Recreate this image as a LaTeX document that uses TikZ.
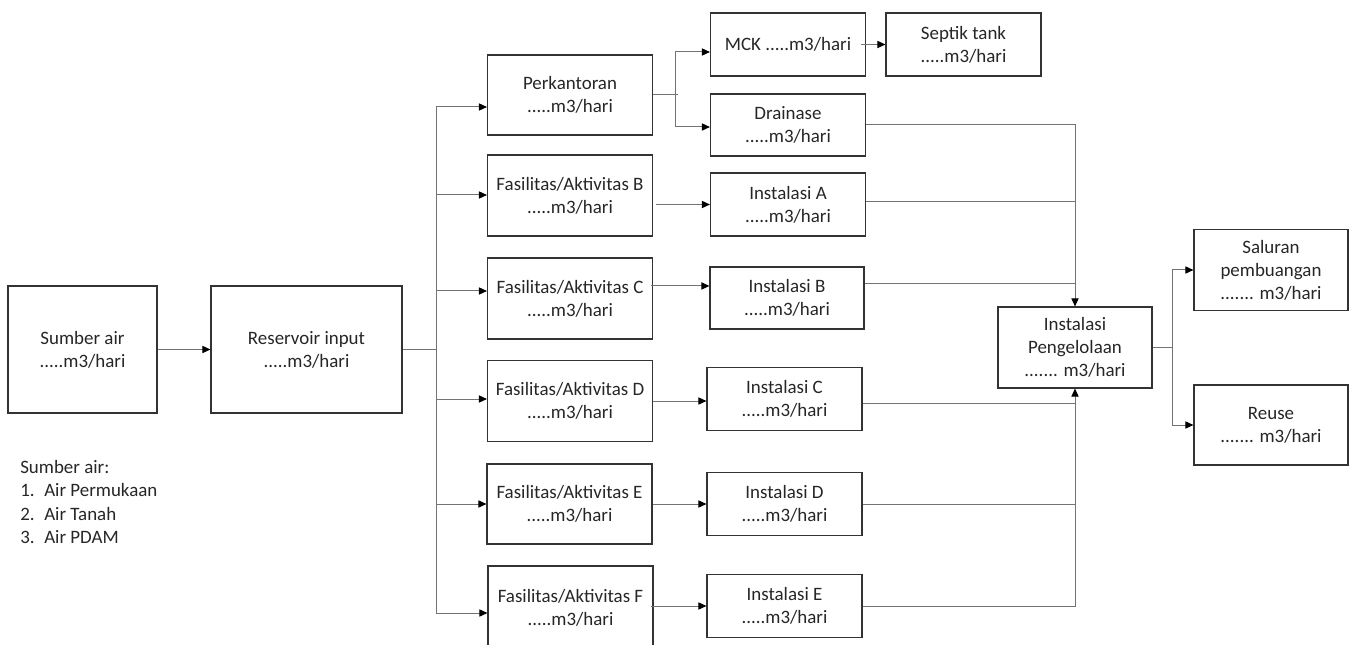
\documentclass[tikz,border=0pt]{standalone}
\usepackage{fontspec}
\setmainfont{Carlito}
\usetikzlibrary{arrows.meta}
\begin{document}
\begin{tikzpicture}[x=0.75pt,y=-0.75pt,
  txt/.style={font=\fontsize{14.2pt}{17.3pt}\selectfont, text=black!85},
  box/.style 2 args={txt, draw=black!80, line width=0.9pt, align=center, inner sep=0pt,
    minimum width=#1*0.75pt, minimum height=#2*0.75pt},
  ln/.style={draw=black!55, line width=0.75pt},
  arr/.style={ln, -{Triangle[length=6pt,width=5.4pt,fill=black,color=black]}}]
\useasboundingbox (0,0) rectangle (1353,645);

% boxes
\node[box={149}{127}] (src) at (82.5,349.5) {Sumber air\\.....m3/hari};
\node[box={191}{127}] (res) at (306.5,349.5) {Reservoir input\\.....m3/hari};
\node[box={165}{80}] (perk) at (570,95) {Perkantoran\\.....m3/hari};
\node[box={165}{81}] (fasB) at (570,195.5) {Fasilitas/Aktivitas B\\.....m3/hari};
\node[box={165}{81}] (fasC) at (570,298.5) {Fasilitas/Aktivitas C\\.....m3/hari};
\node[box={165}{81}] (fasD) at (570,401) {Fasilitas/Aktivitas D\\.....m3/hari};
\node[box={165}{80}] (fasE) at (569.5,504) {Fasilitas/Aktivitas E\\.....m3/hari};
\node[box={165}{84}] (fasF) at (570.5,608) {Fasilitas/Aktivitas F\\.....m3/hari};
\node[box={155}{63}] (mck) at (788,44.5) {MCK .....m3/hari};
\node[box={155}{63}] (sep) at (963.5,44.5) {Septik tank\\.....m3/hari};
\node[box={155}{62}] (drain) at (788,125) {Drainase\\.....m3/hari};
\node[box={155}{63}] (instA) at (788,204.5) {Instalasi A\\.....m3/hari};
\node[box={154}{62}] (instB) at (787,298) {Instalasi B\\.....m3/hari};
\node[box={155}{63}] (instC) at (784.5,399) {Instalasi C\\.....m3/hari};
\node[box={155}{63}] (instD) at (784.5,504) {Instalasi D\\.....m3/hari};
\node[box={155}{63}] (instE) at (784.5,606) {Instalasi E\\.....m3/hari};
\node[box={154}{81}] (ip) at (1075,347.5) {Instalasi\\Pengelolaan\\....... m3/hari};
\node[box={154}{81}] (sal) at (1271,270) {Saluran\\pembuangan\\....... m3/hari};
\node[box={154}{80}] (reuse) at (1271,425) {Reuse\\....... m3/hari};

% list
\node[txt, anchor=west, inner sep=0pt] (l0) at (20,467) {Sumber air:};
\node[txt, anchor=west, inner sep=0pt] (n1) at (20,490) {1.};
\node[txt, anchor=west, inner sep=0pt] (l1) at (44,490) {Air Permukaan};
\node[txt, anchor=west, inner sep=0pt] (n2) at (20,514) {2.};
\node[txt, anchor=west, inner sep=0pt] (l2) at (44,514) {Air Tanah};
\node[txt, anchor=west, inner sep=0pt] (n3) at (20,537) {3.};
\node[txt, anchor=west, inner sep=0pt] (l3) at (44,537) {Air PDAM};

% source -> reservoir -> trunk
\draw[arr] (src.east) -- (res.west);
\coordinate (t1) at (436,107);
\coordinate (t2) at (436,195);
\coordinate (t3) at (436,291);
\coordinate (t4) at (436,399);
\coordinate (t5) at (436,504);
\coordinate (t6) at (436,613);
\draw[ln] (res.east) -- (res.east -| t1);
\draw[ln] (t1) -- (t6);
\draw[arr] (t1) -- (t1 -| perk.west);
\draw[arr] (t2) -- (t2 -| fasB.west);
\draw[arr] (t3) -- (t3 -| fasC.west);
\draw[arr] (t4) -- (t4 -| fasD.west);
\draw[arr] (t5) -- (t5 -| fasE.west);
\draw[arr] (t6) -- (t6 -| fasF.west);

% perkantoran split
\coordinate (sp) at (675,95);
\coordinate (s1) at (675,52);
\coordinate (s2) at (675,127);
\draw[ln] (perk.east) -- ([xshift=2.5pt]sp);
\draw[ln] (s1) -- (s2);
\draw[arr] (s1) -- (s1 -| mck.west);
\draw[arr] (s2) -- (s2 -| drain.west);
\draw[arr] ([xshift=-4pt]mck.east) -- (sep.west);

% facility -> instalasi
\draw[arr] ([xshift=2pt]fasB.east |- instA.west) -- (instA.west);
\draw[arr] ([yshift=9.4pt,xshift=-1.5pt]fasC.east) -- ([yshift=9.4pt]fasC.east -| instB.west);
\draw[arr] (fasD.east) -- (fasD.east -| instC.west);
\draw[arr] (fasE.east) -- (fasE.east -| instD.west);
\draw[arr] ([xshift=-2pt]fasF.east |- instE.west) -- (instE.west);

% collector
\draw[arr] (drain.east) -| (ip.north);
\draw[ln] ([yshift=2.6pt]instA.east) -- ([yshift=2.6pt]instA.east -| ip.north);
\draw[ln] ([yshift=10.5pt]instB.east) -- ([yshift=10.5pt]instB.east -| ip.north);
\draw[ln] ([yshift=-3pt]instC.east) -- ([yshift=-3pt]instC.east -| ip.north);
\draw[ln] (instD.east) -- (instD.east -| ip.south);
\draw[arr] (instE.east) -| (ip.south);

% output
\coordinate (o) at (1172,347.5);
\draw[ln] (ip.east) -- (o);
\draw[arr] (o) |- (sal.west);
\draw[arr] (o) |- (reuse.west);
\end{tikzpicture}
\end{document}
